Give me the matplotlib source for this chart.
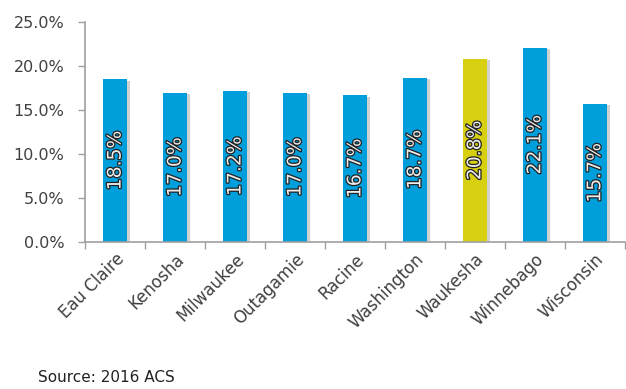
import matplotlib
matplotlib.use("Agg")
import matplotlib.pyplot as plt
import matplotlib.patheffects as pe
import numpy as np

categories = ["Eau Claire", "Kenosha", "Milwaukee", "Outagamie", "Racine",
              "Washington", "Waukesha", "Winnebago", "Wisconsin"]
values = [18.5, 17.0, 17.2, 17.0, 16.7, 18.7, 20.8, 22.1, 15.7]
highlight = "Waukesha"
yticks = [0, 5, 10, 15, 20, 25]

blue = "#009FDB"
yellow = "#D6D010"
colors = [yellow if c == highlight else blue for c in categories]

plt.rcParams['font.family'] = ['DejaVu Sans']
fig = plt.figure(figsize=(6.26, 3.89), dpi=100)
ax = fig.add_axes([0.136, 0.378, 0.862, 0.565])

x = np.arange(len(categories))
bars = ax.bar(x, values, width=0.4, color=colors, zorder=2)
for b in bars:
    b.set_path_effects([pe.SimplePatchShadow(offset=(2, -1), shadow_rgbFace='#999999', alpha=0.45), pe.Normal()])

for xi, v in zip(x, values):
    ax.text(xi, v / 2, f"{v:.1f}%", rotation=90, ha='center', va='center',
            fontsize=13.5, color='#EDEDED', zorder=3,
            path_effects=[pe.withStroke(linewidth=1.8, foreground='#222222')])

ax.set_xlim(-0.5, len(categories) - 0.5)
ax.set_ylim(0, 25)
ax.set_yticks(yticks)
ax.set_yticklabels([f"{t:.1f}%" for t in yticks], fontsize=11.5, color='#404040')
ax.set_xticks(x)
ax.set_xticklabels(categories, rotation=45, ha='right', va='top',
                   rotation_mode='anchor', fontsize=12, color='#404040')
ax.set_xticks(np.arange(len(categories) + 1) - 0.5, minor=True)
ax.tick_params(axis='x', which='major', length=0, pad=6)
ax.tick_params(axis='x', which='minor', length=5, color='#A0A0A0', width=1)
ax.tick_params(axis='y', length=5, color='#A0A0A0', width=1, pad=10)

for s in ['top', 'right']:
    ax.spines[s].set_visible(False)
for s in ['left', 'bottom']:
    ax.spines[s].set_color('#A0A0A0')
    ax.spines[s].set_linewidth(1.2)

fig.text(0.061, 0.03, "Source: 2016 ACS", fontsize=11, color='#222222', ha='left', va='center')

fig.savefig("out.png", dpi=100)
